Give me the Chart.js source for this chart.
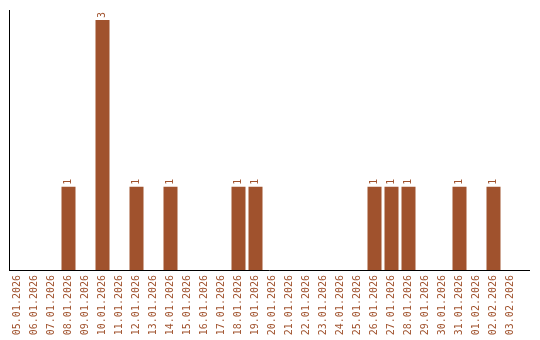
<!DOCTYPE html>
<html>
<head>
<meta charset="utf-8">
<script src="https://cdn.jsdelivr.net/npm/chart.js@4"></script>
<style>
  html, body { margin: 0; padding: 0; background: #fff; }
  #wrap { width: 540px; height: 340px; position: relative; }
</style>
</head>
<body>
<div id="wrap"><canvas id="chart"></canvas></div>
<script>
// days on the x axis
const days = [
  '05.01.2026', '06.01.2026', '07.01.2026', '08.01.2026', '09.01.2026',
  '10.01.2026', '11.01.2026', '12.01.2026', '13.01.2026', '14.01.2026',
  '15.01.2026', '16.01.2026', '17.01.2026', '18.01.2026', '19.01.2026',
  '20.01.2026', '21.01.2026', '22.01.2026', '23.01.2026', '24.01.2026',
  '25.01.2026', '26.01.2026', '27.01.2026', '28.01.2026', '29.01.2026',
  '30.01.2026', '31.01.2026', '01.02.2026', '02.02.2026', '03.02.2026',
];
// count per day
const counts = [
  0, 0, 0, 1, 0,
  3, 0, 1, 0, 1,
  0, 0, 0, 1, 1,
  0, 0, 0, 0, 0,
  0, 1, 1, 1, 0,
  0, 1, 0, 1, 0,
];

const brown = '#a0522d';
const monoFont = { family: 'DejaVu Sans Mono', size: 10 };

// rotated value on top of each bar + x axis line that runs past the last bar
const extras = {
  id: 'extras',
  afterDatasetsDraw(chart) {
    const ctx = chart.ctx;
    const meta = chart.getDatasetMeta(0);
    ctx.save();
    ctx.fillStyle = brown;
    ctx.font = '10px "DejaVu Sans Mono"';
    ctx.textAlign = 'left';
    ctx.textBaseline = 'middle';
    meta.data.forEach((bar, i) => {
      if (!counts[i]) return;
      ctx.save();
      ctx.translate(bar.x, bar.y - 2);
      ctx.rotate(-Math.PI / 2);
      ctx.fillText(String(counts[i]), 0, 0);
      ctx.restore();
    });
    const { left, bottom } = chart.chartArea;
    ctx.strokeStyle = '#000';
    ctx.lineWidth = 1;
    ctx.beginPath();
    ctx.moveTo(left, bottom + 0.5);
    ctx.lineTo(530, bottom + 0.5);
    ctx.stroke();
    ctx.restore();
  },
};

new Chart(document.getElementById('chart'), {
  type: 'bar',
  data: {
    labels: days,
    datasets: [{
      data: counts,
      backgroundColor: brown,
      borderWidth: 0,
      barPercentage: 1,
      categoryPercentage: 14 / 17,
    }],
  },
  options: {
    responsive: true,
    maintainAspectRatio: false,
    animation: false,
    layout: { padding: { left: 9, right: 21, top: 10, bottom: 0 } },
    plugins: { legend: { display: false }, tooltip: { enabled: false } },
    scales: {
      x: {
        grid: { display: false, drawTicks: false },
        border: { display: false },
        ticks: {
          color: brown,
          font: monoFont,
          minRotation: 90,
          maxRotation: 90,
          autoSkip: false,
          padding: 5,
        },
        afterFit: (scale) => { scale.height = 70; },
      },
      y: {
        min: 0,
        max: 3.12,
        grid: { display: false, drawTicks: false },
        border: { display: true, color: '#000', width: 1 },
        ticks: { display: false },
        afterFit: (scale) => { scale.width = 0; },
      },
    },
  },
  plugins: [extras],
});
</script>
</body>
</html>
